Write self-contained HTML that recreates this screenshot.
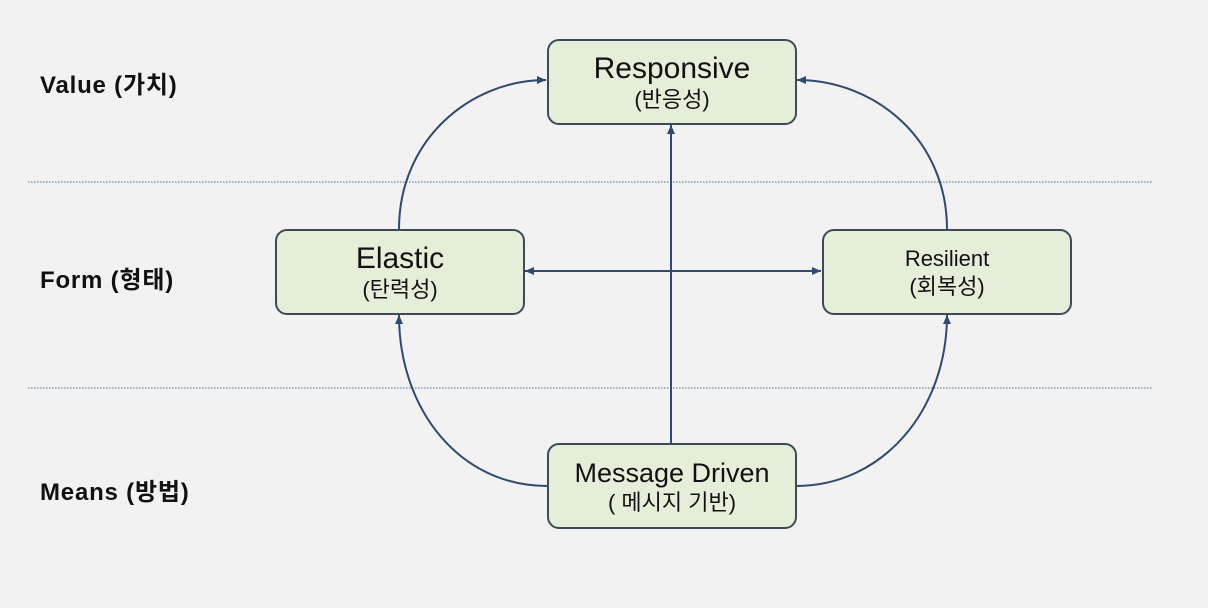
<!DOCTYPE html>
<html><head><meta charset="utf-8"><style>
html,body{margin:0;padding:0;background:#f2f2f2;}
body{width:1208px;height:608px;position:relative;overflow:hidden;font-family:"Liberation Sans","Noto Sans CJK KR",sans-serif;}
.box{position:absolute;width:250px;height:86px;background:#e5eed9;border:2px solid #3e4a57;border-radius:12px;box-sizing:border-box;text-align:center;color:#111;}
.lbl{position:absolute;font-weight:bold;font-size:24px;letter-spacing:0.8px;color:#111;}
</style></head><body>
<svg width="1208" height="608" style="position:absolute;left:0;top:0">
<defs><marker id="a" markerWidth="10" markerHeight="10" refX="9" refY="5" orient="auto" markerUnits="userSpaceOnUse"><path d="M0,1 L9,5 L0,9 Z" fill="#2f4a6e"/></marker></defs>
<line x1="28" y1="182" x2="1153" y2="182" stroke="#6b82b0" stroke-width="1.3" stroke-dasharray="1.5,1.5"/>
<line x1="28" y1="388" x2="1153" y2="388" stroke="#6b82b0" stroke-width="1.3" stroke-dasharray="1.5,1.5"/>
<g stroke="#2f4a6e" stroke-width="2" fill="none">
<path d="M399,229 C399,140 470,80 546,80" marker-end="url(#a)"/>
<path d="M947,229 C947,140 876,80 797,80" marker-end="url(#a)"/>
<path d="M547,486 C460,486 399,410 399,315" marker-end="url(#a)"/>
<path d="M796,486 C883,486 947,410 947,315" marker-end="url(#a)"/>
<line x1="671" y1="443" x2="671" y2="125" marker-end="url(#a)"/>
<line x1="671" y1="271" x2="525" y2="271" marker-end="url(#a)"/>
<line x1="671" y1="271" x2="821" y2="271" marker-end="url(#a)"/>
</g>
</svg>
<div class="lbl" style="left:40px;top:65px">Value (가치)</div>
<div class="lbl" style="left:40px;top:260px">Form (형태)</div>
<div class="lbl" style="left:40px;top:472px">Means (방법)</div>
<div class="box" style="left:547px;top:39px"><div style="font-size:30px;margin-top:11px;line-height:34px">Responsive</div><div style="font-size:22px;line-height:28px">(반응성)</div></div>
<div class="box" style="left:275px;top:229px"><div style="font-size:30px;margin-top:11px;line-height:34px">Elastic</div><div style="font-size:22px;line-height:28px">(탄력성)</div></div>
<div class="box" style="left:822px;top:229px"><div style="font-size:22px;margin-top:14px;line-height:28px">Resilient</div><div style="font-size:22px;line-height:28px">(회복성)</div></div>
<div class="box" style="left:547px;top:443px"><div style="font-size:27px;margin-top:12px;line-height:32px">Message Driven</div><div style="font-size:22px;line-height:28px">( 메시지 기반)</div></div>
</body></html>
